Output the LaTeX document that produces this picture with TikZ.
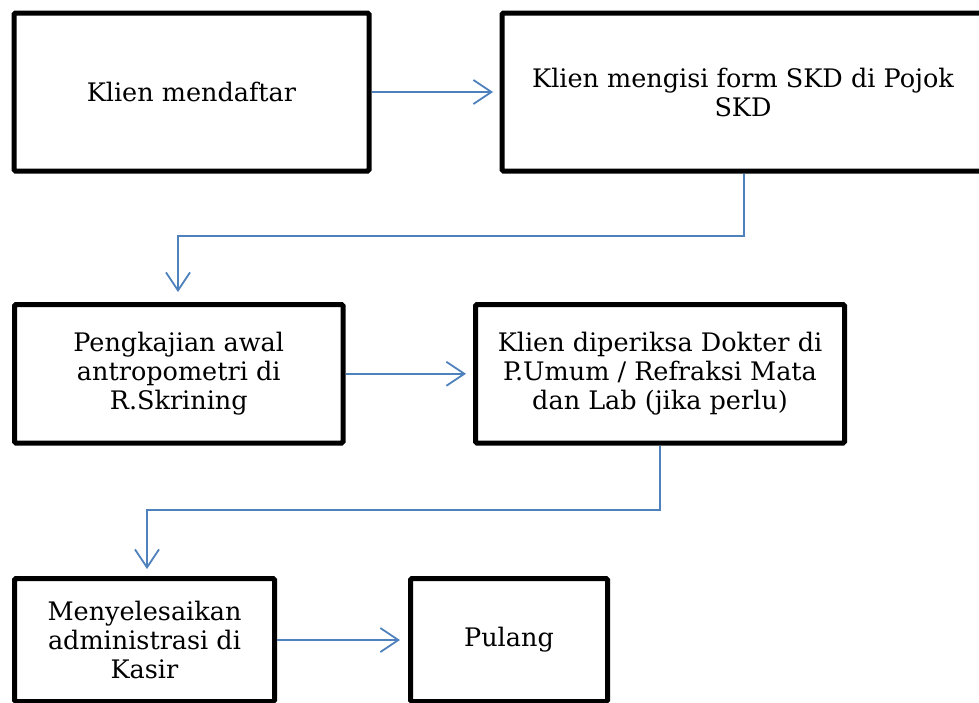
\documentclass[tikz,border=0pt]{standalone}
\usepackage{fontspec}
\setmainfont{DejaVu Serif}
\usetikzlibrary{arrows.meta}
\definecolor{lineblue}{RGB}{79,129,189}
\begin{document}
\begin{tikzpicture}[x=1pt,y=-1pt,
  box/.style={draw=black,line width=5pt,rounded corners=1.5pt,align=center,
    font=\fontsize{25.5}{29}\selectfont,inner sep=0pt},
  conn/.style={draw=lineblue,line width=1.8pt,
    -{Straight Barb[length=18pt,width=24pt,line width=1.8pt]}}]
\useasboundingbox (0,0) rectangle (979,702);
\node[box,minimum width=355pt,minimum height=158pt] (b1) at (191.5,92) {Klien mendaftar};
\node[box,minimum width=500pt,minimum height=158pt] (b2) at (752,92) {Klien mengisi form SKD di Pojok\rule{18pt}{0pt}\\SKD\rule{18pt}{0pt}};
\node[box,minimum width=328.5pt,minimum height=138.5pt] (b3) at (178.75,373.75) {Pengkajian awal\\antropometri di\\R.Skrining};
\node[box,minimum width=369pt,minimum height=138.5pt] (b4) at (660,373.75) {Klien diperiksa Dokter di\\P.Umum / Refraksi Mata\\dan Lab (jika perlu)};
\node[box,minimum width=260pt,minimum height=123pt] (b5) at (144.5,640) {Menyelesaikan\\administrasi di\\Kasir};
\node[box,minimum width=197pt,minimum height=123pt] (b6) at (509,640) {Pulang};
\coordinate (j1) at (744,236);
\coordinate (j2) at (178,236);
\coordinate (j3) at (660,510);
\coordinate (j4) at (147,510);
\draw[conn,shorten >=6.5pt] (b1.east) -- (b1.east -| b2.west);
\draw[conn,shorten >=10pt] (b2.south -| j1) -- (j1) -- (j2) -- (b3.north -| j2);
\draw[conn,shorten >=7pt] (b3.east) -- (b3.east -| b4.west);
\draw[conn,shorten >=7pt] (b4.south -| j3) -- (j3) -- (j4) -- (b5.north -| j4);
\draw[conn,shorten >=8pt] (b5.east) -- (b5.east -| b6.west);
\end{tikzpicture}
\end{document}
